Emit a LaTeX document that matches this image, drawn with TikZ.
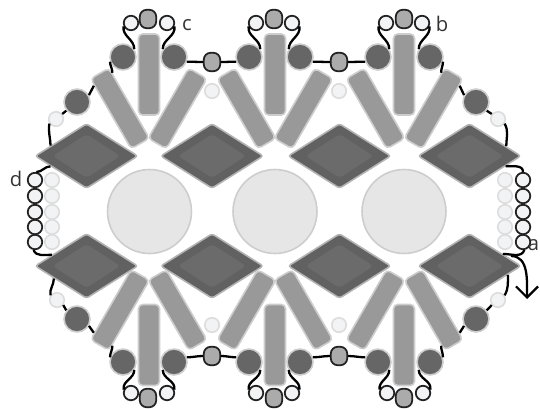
\documentclass[tikz,border=0pt]{standalone}
\usepackage{fontspec}
\setmainfont{Open Sans}
\usetikzlibrary{shapes.geometric,arrows.meta}

\begin{document}
\begin{tikzpicture}[x=0.02cm,y=-0.02cm,
  bigDisc/.style={circle,draw=colEdge,fill=colDisc,line width=0.9pt,minimum size=1.68cm,inner sep=0pt},
  gemOuter/.style={diamond,draw=colGemEdge,fill=colGemDark,line width=0.9pt,rounded corners=1.5pt,minimum width=2.06cm,minimum height=1.3cm,inner sep=0pt},
  gemInner/.style={diamond,fill=colGem,rounded corners=2pt,minimum width=1.36cm,minimum height=0.88cm,inner sep=0pt},
  barBox/.style={rectangle,draw=colEdge,fill=colBar,line width=0.9pt,rounded corners=2.4pt,minimum width=0.42cm,minimum height=1.62cm,inner sep=0pt},
  beadDark/.style={circle,draw=colEdge,fill=colDark,line width=0.9pt,minimum size=0.52cm,inner sep=0pt},
  beadGray/.style={rectangle,draw=colThread,fill=colGray,line width=1pt,rounded corners=4pt,minimum width=0.33cm,minimum height=0.37cm,inner sep=0pt},
  beadWhite/.style={circle,draw=colThread,fill=colPale,line width=1pt,minimum size=0.29cm,inner sep=0pt},
  beadPale/.style={circle,draw=colPaleEdge,fill=colPale,line width=0.9pt,minimum size=0.29cm,inner sep=0pt},
  thread/.style={draw=black,line width=1.3pt},
  letter/.style={font=\fontsize{11.5pt}{13pt}\selectfont,text=colText,inner sep=0pt}]

% Colori
\definecolor{colEdge}{HTML}{CDCDCD}
\definecolor{colDisc}{HTML}{E6E6E6}
\definecolor{colGemEdge}{HTML}{B4B4B4}
\definecolor{colGemDark}{HTML}{616161}
\definecolor{colGem}{HTML}{6B6B6B}
\definecolor{colBar}{HTML}{999999}
\definecolor{colDark}{HTML}{666666}
\definecolor{colGray}{HTML}{ABABAB}
\definecolor{colPale}{HTML}{F1F3F5}
\definecolor{colPaleEdge}{HTML}{DCDCDC}
\definecolor{colThread}{HTML}{222222}
\definecolor{colText}{HTML}{333333}

\useasboundingbox (0,0) rectangle (540,409);

% Dischi centrali
\node[bigDisc] (disc1) at (149.5,211.5) {};
\node[bigDisc] (disc2) at (275,211.5) {};
\node[bigDisc] (disc3) at (404,211.5) {};

% Rombi - fila alta
\node[gemOuter] (gemTop1) at (86.5,156) {};
\node[gemInner] (gemTop1in) at (gemTop1) {};
\node[gemOuter] (gemTop2) at (212,156) {};
\node[gemInner] (gemTop2in) at (gemTop2) {};
\node[gemOuter] (gemTop3) at (339.5,156) {};
\node[gemInner] (gemTop3in) at (gemTop3) {};
\node[gemOuter] (gemTop4) at (469.5,156) {};
\node[gemInner] (gemTop4in) at (gemTop4) {};

% Rombi - fila bassa
\node[gemOuter] (gemBot1) at (86.5,266) {};
\node[gemInner] (gemBot1in) at (gemBot1) {};
\node[gemOuter] (gemBot2) at (212,266) {};
\node[gemInner] (gemBot2in) at (gemBot2) {};
\node[gemOuter] (gemBot3) at (339.5,266) {};
\node[gemInner] (gemBot3in) at (gemBot3) {};
\node[gemOuter] (gemBot4) at (469.5,266) {};
\node[gemInner] (gemBot4in) at (gemBot4) {};

% Barre - fila alta
\node[barBox] (barTop1) at (149,74.5) {};
\node[barBox] (barTop2) at (275,74.5) {};
\node[barBox] (barTop3) at (404,74.5) {};
\node[barBox,rotate=30] (slantTop1) at (120,108.5) {};
\node[barBox,rotate=-30] (slantTop2) at (177.5,108.5) {};
\node[barBox,rotate=30] (slantTop3) at (246.5,108.5) {};
\node[barBox,rotate=-30] (slantTop4) at (303.5,108.5) {};
\node[barBox,rotate=30] (slantTop5) at (375.5,108.5) {};
\node[barBox,rotate=-30] (slantTop6) at (433.5,108.5) {};

% Barre - fila bassa
\node[barBox] (barBot1) at (149,345) {};
\node[barBox] (barBot2) at (275,345) {};
\node[barBox] (barBot3) at (404,345) {};
\node[barBox,rotate=-30] (slantBot1) at (120,310) {};
\node[barBox,rotate=30] (slantBot2) at (177.5,310) {};
\node[barBox,rotate=-30] (slantBot3) at (246.5,310) {};
\node[barBox,rotate=30] (slantBot4) at (303.5,310) {};
\node[barBox,rotate=-30] (slantBot5) at (375.5,310) {};
\node[barBox,rotate=30] (slantBot6) at (433.5,310) {};

% Perle scure
\node[beadDark] (darkTop1) at (123,57) {};
\node[beadDark] (darkTop2) at (174,57) {};
\node[beadDark] (darkTop3) at (249,57) {};
\node[beadDark] (darkTop4) at (300,57) {};
\node[beadDark] (darkTop5) at (378,57) {};
\node[beadDark] (darkTop6) at (430,57) {};
\node[beadDark] (darkTopL) at (77,102) {};
\node[beadDark] (darkTopR) at (476,102) {};
\node[beadDark] (darkBot1) at (123,362) {};
\node[beadDark] (darkBot2) at (174,362) {};
\node[beadDark] (darkBot3) at (249,362) {};
\node[beadDark] (darkBot4) at (300,362) {};
\node[beadDark] (darkBot5) at (378,362) {};
\node[beadDark] (darkBot6) at (430,362) {};
\node[beadDark] (darkBotL) at (77,319) {};
\node[beadDark] (darkBotR) at (476,319) {};

% Perle bianche
\node[beadWhite] (whiteTop1) at (131,23) {};
\node[beadWhite] (whiteTop2) at (167,23) {};
\node[beadWhite] (whiteTop3) at (256,23) {};
\node[beadWhite] (whiteTop4) at (292,23) {};
\node[beadWhite] (whiteTop5) at (386,23) {};
\node[beadWhite] (whiteTop6) at (422,23) {};
\node[beadWhite] (whiteBot1) at (131,393) {};
\node[beadWhite] (whiteBot2) at (167,393) {};
\node[beadWhite] (whiteBot3) at (256,393) {};
\node[beadWhite] (whiteBot4) at (292,393) {};
\node[beadWhite] (whiteBot5) at (387,393) {};
\node[beadWhite] (whiteBot6) at (423,393) {};

% Perle grigie
\node[beadGray] (grayTop1) at (148,19) {};
\node[beadGray] (grayTop2) at (274,19) {};
\node[beadGray] (grayTop3) at (404,19) {};
\node[beadGray] (grayMid1) at (212,62) {};
\node[beadGray] (grayMid2) at (339,62) {};
\node[beadGray] (grayMid3) at (212,356) {};
\node[beadGray] (grayMid4) at (339,356) {};
\node[beadGray] (grayBot1) at (148,398) {};
\node[beadGray] (grayBot2) at (274,398) {};
\node[beadGray] (grayBot3) at (404,398) {};

% Perle chiare
\node[beadPale] (paleMid1) at (212,91) {};
\node[beadPale] (paleMid2) at (339,91) {};
\node[beadPale] (paleMid3) at (212,325) {};
\node[beadPale] (paleMid4) at (339,325) {};
\node[beadPale] (paleTopL) at (56,119) {};
\node[beadPale] (paleTopR) at (498,119) {};
\node[beadPale] (paleBotL) at (57,300) {};
\node[beadPale] (paleBotR) at (498,300) {};

% Colonne laterali
\node[beadWhite] (sideL1) at (35,180) {};
\node[beadWhite] (sideL2) at (35,196) {};
\node[beadWhite] (sideL3) at (35,212) {};
\node[beadWhite] (sideL4) at (35,227) {};
\node[beadWhite] (sideL5) at (35,242) {};
\node[beadPale] (innerL1) at (52,180) {};
\node[beadPale] (innerL2) at (52,196) {};
\node[beadPale] (innerL3) at (52,212) {};
\node[beadPale] (innerL4) at (52,227) {};
\node[beadPale] (innerL5) at (52,242) {};
\node[beadWhite] (sideR1) at (523,180) {};
\node[beadWhite] (sideR2) at (523,196) {};
\node[beadWhite] (sideR3) at (523,212) {};
\node[beadWhite] (sideR4) at (523,227) {};
\node[beadWhite] (sideR5) at (523,242) {};
\node[beadPale] (innerR1) at (505,180) {};
\node[beadPale] (innerR2) at (505,196) {};
\node[beadPale] (innerR3) at (505,212) {};
\node[beadPale] (innerR4) at (505,227) {};
\node[beadPale] (innerR5) at (505,242) {};

% Filo - lato alto
\draw[thread] (whiteTop1.205) to[out=-100,in=90] (darkTop1.35);
\draw[thread] (whiteTop2.-25) to[out=-80,in=90] (darkTop2.145);
\draw[thread] (whiteTop3.205) to[out=-100,in=90] (darkTop3.35);
\draw[thread] (whiteTop4.-25) to[out=-80,in=90] (darkTop4.145);
\draw[thread] (whiteTop5.205) to[out=-100,in=90] (darkTop5.35);
\draw[thread] (whiteTop6.-25) to[out=-80,in=90] (darkTop6.145);
\draw[thread] (darkTop2.-20) -- (grayMid1.west);
\draw[thread] (grayMid1.east) -- (darkTop3.-160);
\draw[thread] (darkTop4.-20) -- (grayMid2.west);
\draw[thread] (grayMid2.east) -- (darkTop5.-160);
\draw[thread] (darkTop1.200) to[out=-90,in=90] (slantTop1.72);
\draw[thread] (darkTop6.-20) to[out=-90,in=90] (slantTop6.108);
\draw[thread] (darkTopL.30) -- (slantTop1.109);
\draw[thread] (darkTopR.150) -- (slantTop6.71);
\draw[thread] (paleTopL.39) -- (darkTopL.219);
\draw[thread] (paleTopR.141) -- (darkTopR.-39);
\draw[thread] (paleTopL.215) to[out=-100,in=90] (gemTop1.164);
\draw[thread] (paleTopR.-35) to[out=-60,in=90] (gemTop4.15);
\draw[thread] (gemTop1.196) to[out=180,in=0] (sideL1.80);
\draw[thread] (gemTop4.-16) to[out=0,in=90] (sideR1.90);

% Filo - lato basso
\draw[thread] (whiteBot1.155) to[out=100,in=-90] (darkBot1.-35);
\draw[thread] (whiteBot2.25) to[out=80,in=-90] (darkBot2.-145);
\draw[thread] (whiteBot3.155) to[out=100,in=-90] (darkBot3.-35);
\draw[thread] (whiteBot4.25) to[out=80,in=-90] (darkBot4.-145);
\draw[thread] (whiteBot5.155) to[out=100,in=-90] (darkBot5.-35);
\draw[thread] (whiteBot6.25) to[out=80,in=-90] (darkBot6.-145);
\draw[thread] (darkBot2.20) to[out=0,in=180] (grayMid3.west);
\draw[thread] (grayMid3.east) to[out=0,in=180] (darkBot3.160);
\draw[thread] (darkBot4.20) to[out=0,in=180] (grayMid4.west);
\draw[thread] (grayMid4.east) to[out=0,in=180] (darkBot5.160);
\draw[thread] (darkBot1.160) to[out=90,in=-90] (slantBot1.-72);
\draw[thread] (darkBot6.20) to[out=90,in=-90] (slantBot6.-108);
\draw[thread] (darkBotL.-30) -- (slantBot1.-109);
\draw[thread] (darkBotR.-150) -- (slantBot6.-71);
\draw[thread] (paleBotL.-39) -- (darkBotL.141);
\draw[thread] (paleBotR.-141) -- (darkBotR.39);
\draw[thread] (paleBotL.145) to[out=100,in=-90] (gemBot1.201);
\draw[thread] (paleBotR.35) to[out=60,in=-90] (gemBot4.-13);
\draw[thread] (sideL5.-100) to[out=-70,in=180] (gemBot1.162);
\draw[thread] (sideR5.-80) to[out=-110,in=0] (gemBot4.20);

% Freccia
\coordinate (arrowStart) at (511,256);
\coordinate (arrowEnd) at (527,299);
\draw[line width=1.3pt,-{Straight Barb[length=0.22cm,width=0.44cm]}] (arrowStart) to[out=0,in=90] (arrowEnd);

% Lettere
\node[letter,anchor=east] (labelA) at (539.5,245) {a};
\node[letter] (labelB) at (442,24) {b};
\node[letter] (labelC) at (187,25) {c};
\node[letter] (labelD) at (16,179) {d};

\end{tikzpicture}
\end{document}
